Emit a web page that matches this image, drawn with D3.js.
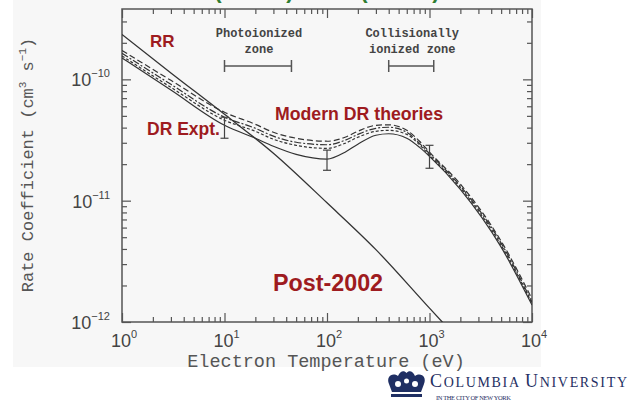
<!DOCTYPE html>
<html>
<head>
<meta charset="utf-8">
<script src="https://cdn.jsdelivr.net/npm/d3@7"></script>
<style>
  body { margin: 0; background: #fff; }
  svg { display: block; }
</style>
</head>
<body>
<div id="chart"></div>
<script>
// Temperatures (eV) for the DR curves
var temps = [1, 3, 10, 20, 30, 50, 100, 150, 200, 300, 400, 600, 800, 1000, 2000, 5000, 10000];
// DR experiment (solid) and three modern DR theory curves (dashed)
var drExpt    = [1.50e-10, 8.16e-11, 4.18e-11, 3.27e-11, 2.81e-11, 2.41e-11, 2.20e-11, 2.51e-11, 2.92e-11, 3.46e-11, 3.56e-11, 3.27e-11, 2.75e-11, 2.32e-11, 1.24e-11, 4.14e-12, 1.38e-12];
var drTheoryA = [1.73e-10, 9.81e-11, 5.35e-11, 4.26e-11, 3.66e-11, 3.27e-11, 3.09e-11, 3.33e-11, 3.73e-11, 4.18e-11, 4.22e-11, 3.80e-11, 3.09e-11, 2.51e-11, 1.37e-11, 4.64e-12, 1.55e-12];
var drTheoryB = [1.64e-10, 9.10e-11, 4.87e-11, 3.95e-11, 3.40e-11, 3.03e-11, 2.89e-11, 3.15e-11, 3.52e-11, 3.95e-11, 4.03e-11, 3.66e-11, 2.97e-11, 2.44e-11, 1.32e-11, 4.47e-12, 1.46e-12];
var drTheoryC = [1.56e-10, 8.59e-11, 4.60e-11, 3.73e-11, 3.21e-11, 2.86e-11, 2.70e-11, 2.97e-11, 3.33e-11, 3.73e-11, 3.80e-11, 3.52e-11, 2.89e-11, 2.37e-11, 1.28e-11, 4.30e-12, 1.42e-12];
// Radiative recombination
var rrTemps = [1, 3, 10, 30, 100, 300, 1000, 2000];
var rrRate  = [2.34e-10, 1.13e-10, 5.15e-11, 2.46e-11, 9.6e-12, 3.95e-12, 1.30e-12, 6.9e-13];
// Error bars on the experiment
var errTemps = [10, 100, 1000];
var errHi = [4.87e-11, 2.61e-11, 2.86e-11];
var errLo = [3.27e-11, 1.78e-11, 1.85e-11];
// Zones
var zoneNames = [["Photoionized", "zone"], ["Collisionally", "ionized zone"]];
var zoneRanges = [[10, 45], [400, 1100]];
// Tick labels
var xMajor = [1, 10, 100, 1000, 10000];
var xExp = ["0", "1", "2", "3", "4"];
var yMajor = [1e-12, 1e-11, 1e-10];
var yExp = ["\u221212", "\u221211", "\u221210"];

var W = 641, H = 405;
var pLeft = 122, pRight = 532, pTop = 9, pBottom = 322;

var svg = d3.select("#chart").append("svg")
    .attr("width", W)
    .attr("height", H);

svg.append("rect").attr("width", W).attr("height", H).attr("fill", "#fff");
// scanned figure background
svg.append("rect").attr("x", 13).attr("y", 0).attr("width", 528).attr("height", 367).attr("fill", "#f7f7f7");

// green title remnants at the very top (cut off in the slide)
[218, 290, 364, 436].forEach(function(px, i) {
  svg.append("text")
      .attr("x", px).attr("y", -2.5)
      .attr("text-anchor", "middle")
      .style("font-family", "Liberation Sans, Arial, sans-serif")
      .style("font-weight", "bold")
      .style("font-size", "22px")
      .attr("fill", "#2e7d32")
      .text(i % 2 == 0 ? "(" : ")");
});

// Scales
var x = d3.scaleLog().domain([1, 1e4]).range([pLeft, pRight]);
var y = d3.scaleLog().domain([1e-12, 3.8e-10]).range([pBottom, pTop]);

var xMinor = x.ticks().filter(function(d) { return !xMajor.some(function(m) { return Math.abs(m - d) / m < 1e-6; }); });
var yMinor = y.ticks().filter(function(d) { return !yMajor.some(function(m) { return Math.abs(m - d) / m < 1e-6; }); });

function styleAxis(g) {
  g.select(".domain").remove();
  g.selectAll("line").attr("stroke", "#555").attr("stroke-width", 1.2);
}

// Axes: inward ticks on all four sides
svg.append("g").attr("transform", "translate(0," + pBottom + ")")
    .call(d3.axisBottom(x).tickValues(xMajor).tickSize(-9).tickFormat("")).call(styleAxis);
svg.append("g").attr("transform", "translate(0," + pBottom + ")")
    .call(d3.axisBottom(x).tickValues(xMinor).tickSize(-5).tickFormat("")).call(styleAxis);
svg.append("g").attr("transform", "translate(0," + pTop + ")")
    .call(d3.axisTop(x).tickValues(xMajor).tickSize(-9).tickFormat("")).call(styleAxis);
svg.append("g").attr("transform", "translate(0," + pTop + ")")
    .call(d3.axisTop(x).tickValues(xMinor).tickSize(-5).tickFormat("")).call(styleAxis);
svg.append("g").attr("transform", "translate(" + pLeft + ",0)")
    .call(d3.axisLeft(y).tickValues(yMajor).tickSize(-9).tickFormat("")).call(styleAxis);
svg.append("g").attr("transform", "translate(" + pLeft + ",0)")
    .call(d3.axisLeft(y).tickValues(yMinor).tickSize(-5).tickFormat("")).call(styleAxis);
svg.append("g").attr("transform", "translate(" + pRight + ",0)")
    .call(d3.axisRight(y).tickValues(yMajor).tickSize(-9).tickFormat("")).call(styleAxis);
svg.append("g").attr("transform", "translate(" + pRight + ",0)")
    .call(d3.axisRight(y).tickValues(yMinor).tickSize(-5).tickFormat("")).call(styleAxis);

// frame
svg.append("rect")
    .attr("x", pLeft).attr("y", pTop)
    .attr("width", pRight - pLeft).attr("height", pBottom - pTop)
    .attr("fill", "none").attr("stroke", "#555").attr("stroke-width", 1.5);

// tick labels (power of ten)
var xl = svg.append("g").selectAll("text").data(xMajor).enter().append("text")
    .attr("x", function(d) { return x(d) + 2; })
    .attr("y", 347)
    .attr("text-anchor", "middle")
    .attr("fill", "#444")
    .style("font-family", "Liberation Sans, Arial, sans-serif")
    .style("font-size", "18px");
xl.append("tspan").text("10");
xl.append("tspan").attr("dy", -9).style("font-size", "11px").text(function(d, i) { return xExp[i]; });

var yl = svg.append("g").selectAll("text").data(yMajor).enter().append("text")
    .attr("x", 110)
    .attr("y", function(d) { return y(d) + 7; })
    .attr("text-anchor", "end")
    .attr("fill", "#444")
    .style("font-family", "Liberation Sans, Arial, sans-serif")
    .style("font-size", "18px");
yl.append("tspan").text("10");
yl.append("tspan").attr("dy", -9).style("font-size", "11px").text(function(d, i) { return yExp[i]; });

// axis titles
svg.append("text")
    .attr("x", 326).attr("y", 367)
    .attr("text-anchor", "middle")
    .attr("fill", "#555")
    .style("font-family", "Liberation Mono, Courier New, monospace")
    .style("font-size", "18.5px")
    .text("Electron Temperature (eV)");

var yt = svg.append("text")
    .attr("transform", "translate(33,165)rotate(-90)")
    .attr("text-anchor", "middle")
    .attr("fill", "#555")
    .style("font-family", "Liberation Mono, Courier New, monospace")
    .style("font-size", "17px");
yt.append("tspan").text("Rate Coefficient (cm");
yt.append("tspan").attr("dy", -7).style("font-size", "11px").text("3");
yt.append("tspan").attr("dy", 7).text(" s");
yt.append("tspan").attr("dy", -7).style("font-size", "11px").text("\u22121");
yt.append("tspan").attr("dy", 7).text(")");

// Data lines
svg.append("clipPath").attr("id", "plot-clip")
  .append("rect").attr("x", pLeft).attr("y", pTop).attr("width", pRight - pLeft).attr("height", pBottom - pTop);

var plot = svg.append("g").attr("clip-path", "url(#plot-clip)");

var line = d3.line()
    .x(function(d) { return x(d[0]); })
    .y(function(d) { return y(d[1]); })
    .curve(d3.curveMonotoneX);

var series = [
  {vals: drTheoryA, dash: "6,3"},
  {vals: drTheoryB, dash: "7,2,2,2"},
  {vals: drTheoryC, dash: "3,2"},
  {vals: drExpt, dash: null}
];
series.forEach(function(s) {
  plot.append("path")
      .datum(temps.map(function(t, i) { return [t, s.vals[i]]; }))
      .attr("d", line)
      .attr("fill", "none")
      .attr("stroke", "#333")
      .attr("stroke-width", 1.2)
      .attr("stroke-dasharray", s.dash);
});

plot.append("path")
    .datum(rrTemps.map(function(t, i) { return [t, rrRate[i]]; }))
    .attr("d", line)
    .attr("fill", "none")
    .attr("stroke", "#333")
    .attr("stroke-width", 1.3);

// error bars
errTemps.forEach(function(t, i) {
  var g = plot.append("g").attr("stroke", "#444").attr("stroke-width", 1.2);
  g.append("line").attr("x1", x(t)).attr("x2", x(t)).attr("y1", y(errHi[i])).attr("y2", y(errLo[i]));
  g.append("line").attr("x1", x(t) - 4).attr("x2", x(t) + 4).attr("y1", y(errHi[i])).attr("y2", y(errHi[i]));
  g.append("line").attr("x1", x(t) - 4).attr("x2", x(t) + 4).attr("y1", y(errLo[i])).attr("y2", y(errLo[i]));
});

// zone markers
zoneRanges.forEach(function(r, i) {
  var g = svg.append("g").attr("stroke", "#555").attr("stroke-width", 1.5);
  var cx = (x(r[0]) + x(r[1])) / 2;
  g.append("line").attr("x1", x(r[0])).attr("x2", x(r[1])).attr("y1", 66).attr("y2", 66);
  g.append("line").attr("x1", x(r[0])).attr("x2", x(r[0])).attr("y1", 60).attr("y2", 72);
  g.append("line").attr("x1", x(r[1])).attr("x2", x(r[1])).attr("y1", 60).attr("y2", 72);
  zoneNames[i].forEach(function(s, j) {
    svg.append("text")
        .attr("x", cx + 1).attr("y", 36.5 + j * 16.5)
        .attr("text-anchor", "middle")
        .attr("fill", "#444")
        .style("font-family", "Liberation Mono, Courier New, monospace")
        .style("font-weight", "bold")
        .style("font-size", "12px")
        .text(s);
  });
});

// red annotations
var red = "#9e1b20";
function note(txt, px, py, size) {
  svg.append("text")
      .attr("x", px).attr("y", py)
      .attr("fill", red)
      .style("font-family", "Liberation Sans, Arial, sans-serif")
      .style("font-weight", "bold")
      .style("font-size", size + "px")
      .text(txt);
}
note("RR", 150, 47, 17);
note("DR Expt.", 147, 135, 17.5);
note("Modern DR theories", 275, 120, 17.7);
note("Post-2002", 273, 291, 23.3);

// Columbia University logo
var navy = "#1f2f63";
var logo = svg.append("g").attr("fill", navy);
logo.append("path")
    .attr("d", "M389,384 C386,377 392,372 398,376 C400,371 404,370 406.5,373 C409,370 413,371 415,376 C421,372 427,377 424,384 L421,392 L392,392 Z");
logo.append("rect").attr("x", 391).attr("y", 394).attr("width", 31).attr("height", 3);
logo.append("circle").attr("cx", 398).attr("cy", 384).attr("r", 3).attr("fill", "#fff");
logo.append("circle").attr("cx", 415).attr("cy", 384).attr("r", 3).attr("fill", "#fff");
logo.append("circle").attr("cx", 406.5).attr("cy", 381).attr("r", 2.5).attr("fill", "#fff");

var cu = svg.append("text")
    .attr("x", 430).attr("y", 387)
    .attr("fill", navy)
    .attr("textLength", 197)
    .attr("lengthAdjust", "spacing")
    .style("font-family", "Liberation Serif, Times New Roman, serif");
cu.append("tspan").style("font-size", "18px").text("C");
cu.append("tspan").style("font-size", "14px").text("OLUMBIA ");
cu.append("tspan").style("font-size", "18px").text("U");
cu.append("tspan").style("font-size", "14px").text("NIVERSITY");

svg.append("text")
    .attr("x", 436).attr("y", 400)
    .attr("fill", navy)
    .attr("textLength", 75)
    .attr("lengthAdjust", "spacing")
    .style("font-family", "Liberation Serif, Times New Roman, serif")
    .style("font-size", "6.5px")
    .text("IN THE CITY OF NEW YORK");
</script>
</body>
</html>
